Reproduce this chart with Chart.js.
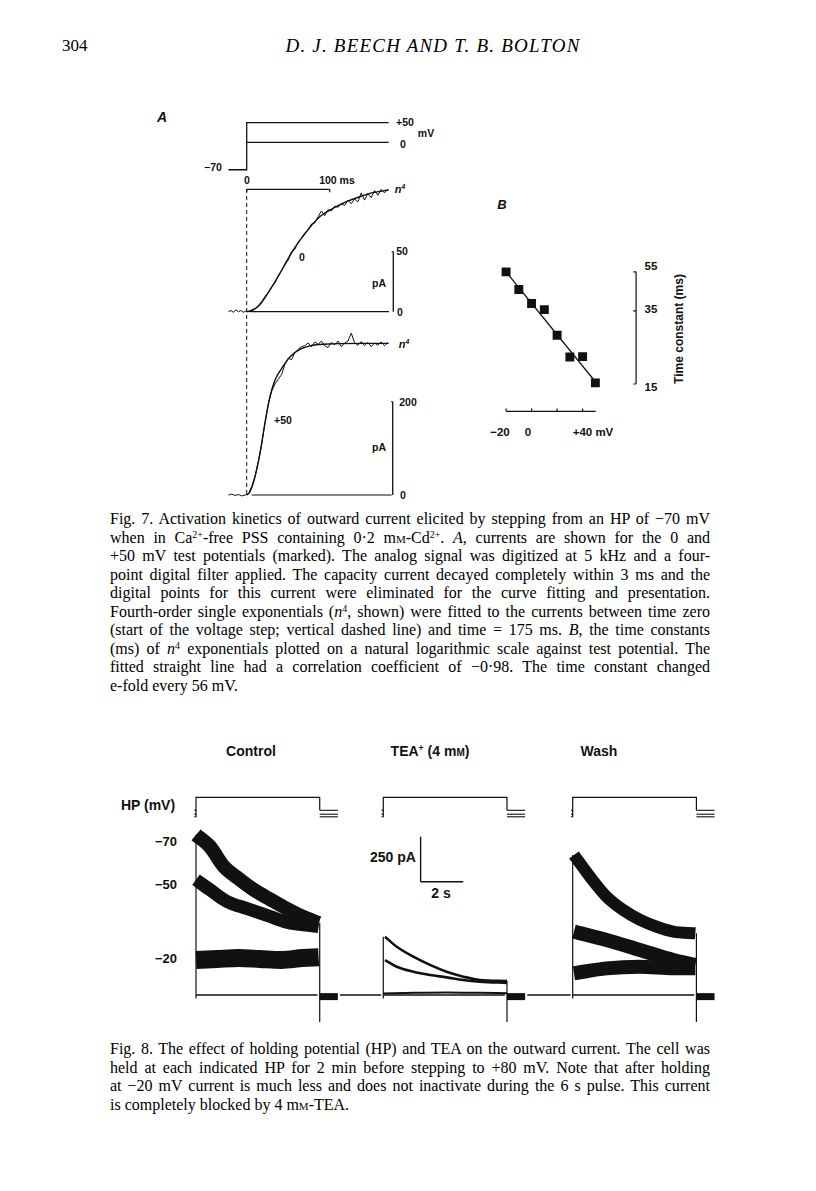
<!DOCTYPE html>
<html>
<head>
<meta charset="utf-8">
<title>Beech and Bolton, p. 304</title>
<script src="https://cdn.jsdelivr.net/npm/chart.js@4.4.0/dist/chart.umd.min.js"></script>
<style>
html, body { margin: 0; padding: 0; background: #fff; }
#page { position: relative; width: 816px; height: 1191px; overflow: hidden; background: #fff; color: #111; }
canvas { position: absolute; }
.lab { position: absolute; font-family: "Liberation Sans", Arial, sans-serif; font-weight: bold; white-space: nowrap; transform: translate(-50%, -50%); line-height: 1; }
.cap { position: absolute; left: 110px; width: 600px; font-family: "Liberation Serif", "Times New Roman", serif; font-size: 16px; line-height: 18px; color: #000; white-space: nowrap; text-align: justify; text-align-last: justify; }
.cap.last { text-align-last: left; }
.head { position: absolute; font-family: "Liberation Serif", serif; font-size: 17px; line-height: 1; white-space: nowrap; transform: translateY(-50%); color: #000; }
.sc { font-variant: small-caps; }
sup { font-size: 0.62em; line-height: 0; vertical-align: 0.55em; }
i { font-style: italic; }
</style>
</head>
<body>
<div id="page">
  <div class="head" style="left:62px; top:45px;">304</div>
  <div class="head" style="left:433px; top:45px; transform:translate(-50%,-50%); font-size:19px; font-style:italic; letter-spacing:1.2px;">D. J. BEECH AND T. B. BOLTON</div>

  <!-- Fig. 7A labels -->
  <div class="lab" style="left:162px; top:117px; font-size:14px; font-style:italic;">A</div>
  <div class="lab" style="left:405px; top:122px; font-size:10.5px;">+50</div>
  <div class="lab" style="left:403px; top:144px; font-size:10.5px;">0</div>
  <div class="lab" style="left:426px; top:133px; font-size:10.5px;">mV</div>
  <div class="lab" style="left:213px; top:167px; font-size:10.5px;">−70</div>
  <div class="lab" style="left:247px; top:180px; font-size:10.5px;">0</div>
  <div class="lab" style="left:337px; top:180px; font-size:10.5px;">100 ms</div>
  <div class="lab" style="left:400px; top:189px; font-size:11px; font-style:italic;">n<sup>4</sup></div>
  <div class="lab" style="left:302px; top:257px; font-size:10.5px;">0</div>
  <div class="lab" style="left:402px; top:251px; font-size:10.5px;">50</div>
  <div class="lab" style="left:379px; top:283px; font-size:10.5px;">pA</div>
  <div class="lab" style="left:400px; top:312px; font-size:10.5px;">0</div>
  <div class="lab" style="left:404px; top:344px; font-size:11px; font-style:italic;">n<sup>4</sup></div>
  <div class="lab" style="left:283px; top:420px; font-size:10.5px;">+50</div>
  <div class="lab" style="left:408px; top:402px; font-size:10.5px;">200</div>
  <div class="lab" style="left:379px; top:447px; font-size:10.5px;">pA</div>
  <div class="lab" style="left:403px; top:495px; font-size:10.5px;">0</div>

  <!-- Fig. 7B labels -->
  <div class="lab" style="left:502px; top:204px; font-size:13px; font-style:italic;">B</div>
  <div class="lab" style="left:651px; top:267px; font-size:11.5px;">55</div>
  <div class="lab" style="left:651px; top:310px; font-size:11.5px;">35</div>
  <div class="lab" style="left:651px; top:388px; font-size:11.5px;">15</div>
  <div class="lab" style="left:679px; top:329px; font-size:12px; transform:translate(-50%,-50%) rotate(-90deg);">Time constant (ms)</div>
  <div class="lab" style="left:500px; top:433px; font-size:11.5px;">−20</div>
  <div class="lab" style="left:528px; top:433px; font-size:11.5px;">0</div>
  <div class="lab" style="left:593px; top:433px; font-size:11.5px;">+40 mV</div>

  <canvas id="fig7a"></canvas>
  <canvas id="fig7b"></canvas>

  <div class="cap" style="top:510px;">Fig. 7. Activation kinetics of outward current elicited by stepping from an HP of −70 mV</div>
  <div class="cap" style="top:528.5px;">when in Ca<sup>2+</sup>-free PSS containing 0·2 m<span class="sc">m</span>-Cd<sup>2+</sup>. <i>A</i>, currents are shown for the 0 and</div>
  <div class="cap" style="top:547px;">+50 mV test potentials (marked). The analog signal was digitized at 5 kHz and a four-</div>
  <div class="cap" style="top:565.5px;">point digital filter applied. The capacity current decayed completely within 3 ms and the</div>
  <div class="cap" style="top:584px;">digital points for this current were eliminated for the curve fitting and presentation.</div>
  <div class="cap" style="top:602.5px;">Fourth-order single exponentials (<i>n</i><sup>4</sup>, shown) were fitted to the currents between time zero</div>
  <div class="cap" style="top:621px;">(start of the voltage step; vertical dashed line) and time = 175 ms. <i>B</i>, the time constants</div>
  <div class="cap" style="top:639.5px;">(ms) of <i>n</i><sup>4</sup> exponentials plotted on a natural logarithmic scale against test potential. The</div>
  <div class="cap" style="top:658px;">fitted straight line had a correlation coefficient of −0·98. The time constant changed</div>
  <div class="cap last" style="top:676.5px;">e-fold every 56 mV.</div>

  <!-- Fig. 8 labels -->
  <div class="lab" style="left:251px; top:751px; font-size:14px;">Control</div>
  <div class="lab" style="left:430px; top:751px; font-size:14px;">TEA<sup>+</sup> (4 m<span class="sc">m</span>)</div>
  <div class="lab" style="left:599px; top:751px; font-size:14px;">Wash</div>
  <div class="lab" style="left:148px; top:805px; font-size:14px;">HP (mV)</div>
  <div class="lab" style="left:166px; top:841px; font-size:13px;">−70</div>
  <div class="lab" style="left:166px; top:884px; font-size:13px;">−50</div>
  <div class="lab" style="left:166px; top:958px; font-size:13px;">−20</div>
  <div class="lab" style="left:393px; top:857px; font-size:14px;">250 pA</div>
  <div class="lab" style="left:441px; top:893px; font-size:14px;">2 s</div>

  <canvas id="fig8"></canvas>

  <div class="cap" style="top:1040px;">Fig. 8. The effect of holding potential (HP) and TEA on the outward current. The cell was</div>
  <div class="cap" style="top:1058.5px;">held at each indicated HP for 2 min before stepping to +80 mV. Note that after holding</div>
  <div class="cap" style="top:1077px;">at −20 mV current is much less and does not inactivate during the 6 s pulse. This current</div>
  <div class="cap last" style="top:1095.5px;">is completely blocked by 4 m<span class="sc">m</span>-TEA.</div>
</div>

<script>
// ---------- Fig. 7A data (time in ms, current in pA, potential in mV) ----------
const protoTime = [-22, 0, 0, 171];
const protoStep50 = [-70, -70, 50, 50];
const protoTime0 = [0, 171];
const protoStep0 = [0, 0];

const fit0Time = [0, 8, 16, 24, 32, 40, 48, 56, 64, 72, 80, 88, 96, 104, 112, 120, 136, 152, 171];
const fit0Current = [0, 1.5, 6, 13.9, 22.5, 32, 42, 51.4, 59.5, 66.7, 73.5, 79.2, 83, 86.2, 89, 91.7, 95.8, 99.2, 101.4];
const raw0Time = [-22, -19, -16, -13, -10, -7, -4, -1, 2, 6, 10, 14, 18, 22, 26, 30, 34, 38, 42, 46, 50, 54, 58, 62, 66, 70,
  74, 78, 82, 86, 90, 94, 98, 102, 106, 110, 114, 118, 122, 126, 130, 134, 138, 142, 146, 150, 154, 158, 162, 166, 170];
const raw0Current = [0, 1, -0.5, 1.5, 0, 1, -0.5, 0.5, 0, 1.5, 2.5, 5, 8.5, 12.5, 16, 20.5, 24, 30, 34, 39, 43, 50, 52, 58, 61, 65.5,
  68, 73, 74, 79, 84, 80, 85, 84, 88, 87, 90, 88.5, 93, 90, 94, 91.5, 99, 93, 98.5, 95, 101, 97, 102, 99, 102];

const fit50Time = [0, 4, 10, 16, 22, 28, 34, 42, 52, 64, 80, 104, 140, 171];
const fit50Current = [0, 7, 39, 89, 154, 211, 246, 271, 296, 312, 321, 324, 325, 325];
const raw50Time = [-22, -18, -14, -10, -6, -2, 2, 6, 10, 14, 18, 22, 26, 30, 34, 38, 42, 46, 50, 54, 58, 62, 66, 70, 74, 78,
  82, 86, 90, 94, 98, 102, 106, 110, 114, 118, 122, 126, 130, 134, 138, 142, 146, 150, 154, 158, 162, 166, 170];
const raw50Current = [0, 2, -1, 1, -2, 0, 2, 18, 40, 72, 108, 155, 195, 222, 238, 248, 258, 280, 293, 290, 305, 312, 318, 320, 326, 318,
  328, 323, 330, 320, 316, 327, 322, 330, 318, 326, 330, 347, 326, 321, 329, 320, 327, 318, 326, 321, 328, 320, 327];

const scaleTime = [0, 100];      // ms bar
const scale0 = [0, 50];          // pA bar, 0 mV trace
const scale50 = [0, 200];        // pA bar, +50 mV trace

// ---------- Fig. 7B data ----------
const bPotential = [-20, -10, 0, 10, 20, 30, 40, 50];          // mV
const bTau = [55, 44.8, 38.1, 35.5, 26.4, 20.5, 20.6, 15.2];   // ms
const bFitPotential = [-20, 50];
const bFitTau = [55, 15.4];
const bPotentialTicks = [-20, 0, 20, 40];
const bTauTicks = [15, 35, 55];

// ---------- Fig. 8 data (time in s from pulse start, current in pA) ----------
const holdingPotentials = [-70, -50, -20];
const ctrl70Time = [0, 0.65, 1.3, 1.9, 2.7, 3.5, 4.25, 5.0, 5.75];
const ctrl70Current = [890, 825, 715, 655, 585, 530, 480, 435, 400];
const ctrl50Time = [0, 0.65, 1.45, 2.4, 3.5, 4.25, 5.75];
const ctrl50Current = [640, 585, 520, 480, 435, 405, 380];
const ctrl20Time = [0, 1, 2, 3, 4, 5, 5.75];
const ctrl20Current = [195, 200, 205, 200, 195, 205, 210];

const tea70Time = [0.08, 0.63, 1.41, 2.19, 2.97, 3.75, 4.53, 5.8];
const tea70Current = [324, 268, 213, 167, 129, 102, 83, 78];
const tea50Time = [0.08, 0.63, 1.41, 2.19, 2.97, 3.75, 4.53, 5.8];
const tea50Current = [194, 157, 129, 111, 98, 83, 74, 67];
const tea20Time = [0, 1.5, 3, 4.5, 5.8];
const tea20Current = [8, 12, 14, 12, 10];

const wash70Time = [0.06, 0.81, 1.59, 2.37, 3.16, 3.94, 4.72, 5.75];
const wash70Current = [778, 657, 546, 472, 417, 379, 352, 343];
const wash50Time = [0.06, 1.59, 3.16, 4.72, 5.75];
const wash50Current = [352, 306, 250, 194, 167];
const wash20Time = [0.06, 1.59, 3.16, 4.72, 5.75];
const wash20Current = [121, 148, 157, 148, 148];

const pulseLength = 5.8;          // s
const stepPotential = 80;         // mV
const barCurrent = 250;           // pA
const barTime = 2;                // s

// ---------- helpers ----------
const INK = '#111';

function pts(xs, ys, dx) {
    return xs.map((x, i) => ({ x: x + (dx || 0), y: ys[i] }));
}

function line(data, axis, width, extra) {
    return Object.assign({
        data: data,
        yAxisID: axis,
        borderColor: INK,
        backgroundColor: INK,
        borderWidth: width,
        pointRadius: 0,
        fill: false,
        tension: 0
    }, extra || {});
}

// value range of a hidden axis so that the canvas edges fall where the page needs them
function xRange(originPx, pxPerUnit, left, width) {
    return { min: (left - originPx) / pxPerUnit, max: (left + width - originPx) / pxPerUnit };
}
function yRange(originPx, pxPerUnit, top, height) {
    return { min: (originPx - top - height) / pxPerUnit, max: (originPx - top) / pxPerUnit };
}

function makeChart(id, box, scales, datasets) {
    const canvas = document.getElementById(id);
    canvas.style.left = box[0] + 'px';
    canvas.style.top = box[1] + 'px';
    canvas.width = box[2];
    canvas.height = box[3];
    Object.keys(scales).forEach(k => {
        scales[k] = Object.assign({ type: 'linear', display: false }, scales[k]);
    });
    return new Chart(canvas, {
        type: 'line',
        data: { datasets: datasets },
        options: {
            responsive: false,
            animation: false,
            events: [],
            layout: { padding: 0 },
            plugins: { legend: { display: false }, tooltip: { enabled: false } },
            scales: scales
        }
    });
}

// ---------- Fig. 7A ----------
function drawFig7A() {
    const box = [200, 110, 240, 395];
    const smooth = { cubicInterpolationMode: 'monotone' };
    const datasets = [
        line(pts(protoTime, protoStep50), 'yv', 1.3),
        line(pts(protoTime0, protoStep0), 'yv', 1.3),
        line(pts(scaleTime, [102, 102]), 'y0', 1.2),
        line(pts([0, 0], [102, 99.5]), 'y0', 1.2),
        line(pts([100, 100], [102, 99.5]), 'y0', 1.2),
        line(pts([0, 0], [656, 0]), 'y50', 1, { borderDash: [4, 3] }),
        line(pts(fit0Time, fit0Current), 'y0', 1.4, smooth),
        line(pts(raw0Time, raw0Current), 'y0', 1),
        line(pts([4, 171.4], [0, 0]), 'y0', 1.2),
        line(pts([176.6, 176.6], scale0), 'y0', 1.3),
        line(pts([174.6, 176.6], [50, 50]), 'y0', 1),
        line(pts(fit50Time, fit50Current), 'y50', 1.4, smooth),
        line(pts(raw50Time, raw50Current), 'y50', 1),
        line(pts([6, 174.7], [0, 0]), 'y50', 1.2),
        line(pts([175.9, 175.9], scale50), 'y50', 1.3),
        line(pts([173.9, 175.9], [200, 200]), 'y50', 1)
    ];
    makeChart('fig7a', box, {
        x: xRange(246.7, 0.83, box[0], box[2]),
        yv: yRange(142.3, 0.392, box[1], box[3]),
        y0: yRange(311.7, 1.2, box[1], box[3]),
        y50: yRange(495, 0.4665, box[1], box[3])
    }, datasets);
}

// ---------- Fig. 7B ----------
function drawFig7B() {
    const box = [490, 250, 160, 180];
    const pxPerLn = 92.82;                   // log axis: 55 ms at y 266.7
    const xAxisTau = 10.93, tickTau = 11.29; // level of the detached potential axis
    const yAxisMv = 81.9, tickMv = 79.7;     // position of the detached time-constant axis
    const datasets = [
        line(pts(bPotential, bTau), 'y', 0, { showLine: false, pointStyle: 'rect', pointRadius: 6.3, pointBorderWidth: 0 }),
        line(pts(bFitPotential, bFitTau), 'y', 1.3),
        line(pts([-20, 50.3], [xAxisTau, xAxisTau]), 'y', 1.2),
        line(pts([yAxisMv, yAxisMv], [bTauTicks[0], bTauTicks[bTauTicks.length - 1]]), 'y', 1.2)
    ];
    bPotentialTicks.forEach(v => datasets.push(line(pts([v, v], [xAxisTau, tickTau]), 'y', 1.2)));
    bTauTicks.forEach(v => datasets.push(line(pts([tickMv, yAxisMv], [v, v]), 'y', 1.2)));
    makeChart('fig7b', box, {
        x: xRange(528.3, 1.385, box[0], box[2]),
        y: {
            type: 'logarithmic',
            min: 55 * Math.exp((266.7 - box[1] - box[3]) / pxPerLn),
            max: 55 * Math.exp((266.7 - box[1]) / pxPerLn)
        }
    }, datasets);
}

// ---------- Fig. 8 ----------
function drawFig8() {
    const box = [180, 785, 545, 245];
    const panelStart = [0, 8.78, 17.66];     // s, where each recording sits on the page
    const traces = [
        [[ctrl70Time, ctrl70Current, 14], [ctrl50Time, ctrl50Current, 13], [ctrl20Time, ctrl20Current, 18]],
        [[tea70Time, tea70Current, 2.6], [tea50Time, tea50Current, 2.6], [tea20Time, tea20Current, 2]],
        [[wash70Time, wash70Current, 12], [wash50Time, wash50Current, 14], [wash20Time, wash20Current, 14]]
    ];
    const datasets = [];
    const smooth = { cubicInterpolationMode: 'monotone', borderJoinStyle: 'round' };

    panelStart.forEach((t0, p) => {
        const top = traces[p][0];
        // voltage protocol
        datasets.push(line(pts([0, 0, pulseLength, pulseLength],
            [holdingPotentials[0], stepPotential, stepPotential, holdingPotentials[2]], t0), 'v', 1.2));
        holdingPotentials.forEach(hp => {
            datasets.push(line(pts([pulseLength, pulseLength + 0.85], [hp, hp], t0), 'v', 1.1));
            datasets.push(line(pts([-0.08, 0.02], [hp, hp], t0), 'v', 1.1));
        });
        // zero current line, on and off transients, tail
        datasets.push(line(pts([0, pulseLength - 0.1], [0, 0], t0), 'y', 1.4));
        datasets.push(line(pts([0, 0], [-20, top[1][0]], t0), 'y', 1.2));
        datasets.push(line(pts([pulseLength, pulseLength], [top[1][top[1].length - 1], -150], t0), 'y', 1.2));
        datasets.push(line(pts([pulseLength, pulseLength + 0.85], [-9, -9], t0), 'y', 7));
        if (p < panelStart.length - 1) {
            datasets.push(line(pts([pulseLength + 0.95, panelStart[p + 1] - t0 - 0.1], [0, 0], t0), 'y', 1.4));
        }
        // current records
        traces[p].forEach(tr => datasets.push(line(pts(tr[0], tr[1], t0), 'y', tr[2], smooth)));
    });

    // calibration bars: 250 pA, 2 s
    const barT = 10.53, barY = 629.4;
    datasets.push(line(pts([barT, barT], [barY, barY + barCurrent]), 'y', 1.4));
    datasets.push(line(pts([barT, barT + barTime], [barY, barY]), 'y', 1.4));

    makeChart('fig8', box, {
        x: xRange(196, 21.33, box[0], box[2]),
        y: yRange(995, 0.18, box[1], box[3]),
        v: yRange(797.3 + stepPotential * 0.13, 0.13, box[1], box[3])
    }, datasets);
}

// squeeze any caption line that would run past the measure
function fitCaptions() {
    document.querySelectorAll('.cap').forEach(el => {
        const over = el.scrollWidth - el.clientWidth;
        if (over > 0) {
            el.style.letterSpacing = (-(over + 2) / el.textContent.length) + 'px';
        }
    });
}

document.addEventListener('DOMContentLoaded', function() {
    fitCaptions();
    drawFig7A();
    drawFig7B();
    drawFig8();
});
</script>
</body>
</html>
